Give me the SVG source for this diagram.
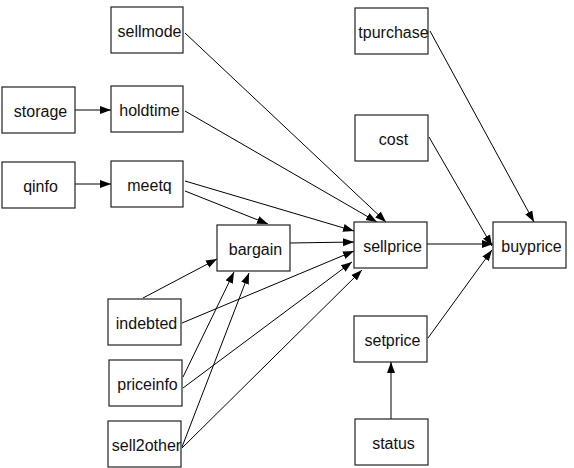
<svg xmlns="http://www.w3.org/2000/svg" width="574" height="468" viewBox="0 0 574 468">
<style>
.n rect{fill:#fff;stroke:#222;stroke-width:1.2}
.n text{font-family:"Liberation Sans",Arial,sans-serif;font-size:16px;fill:#111;text-anchor:middle}
.e line{stroke:#000;stroke-width:1;marker-end:url(#ah)}
</style>
<defs>
<marker id="ah" markerUnits="userSpaceOnUse" markerWidth="12" markerHeight="10" refX="11" refY="4" orient="auto" viewBox="0 0 12 8">
<path d="M0,0 L11,4 L0,8 z" fill="#000"/>
</marker>
</defs>
<rect width="574" height="468" fill="#fff"/>
<g class="e">
<line x1="75" y1="110" x2="111" y2="110"/>
<line x1="75" y1="184" x2="111" y2="184"/>
<line x1="185" y1="33" x2="386" y2="222"/>
<line x1="185" y1="111" x2="377" y2="222"/>
<line x1="185" y1="181" x2="354" y2="231"/>
<line x1="185" y1="191" x2="268" y2="224"/>
<line x1="290" y1="243" x2="354" y2="242"/>
<line x1="143" y1="298" x2="217" y2="259"/>
<line x1="182" y1="323" x2="354" y2="251"/>
<line x1="183" y1="377" x2="234" y2="272"/>
<line x1="183" y1="388" x2="352" y2="262"/>
<line x1="182" y1="447" x2="249" y2="273"/>
<line x1="182" y1="448" x2="362" y2="270"/>
<line x1="427" y1="244" x2="493" y2="244"/>
<line x1="430" y1="31" x2="534" y2="222"/>
<line x1="429" y1="137" x2="492" y2="246"/>
<line x1="428" y1="338" x2="492" y2="250"/>
<line x1="391" y1="419" x2="391" y2="362"/>
</g>
<g id="sellmode" class="n"><rect x="111" y="7" width="72" height="46"/><text x="149.5" y="36.5">sellmode</text></g>
<g id="storage" class="n"><rect x="2" y="87" width="73" height="46"/><text x="40.5" y="116.5">storage</text></g>
<g id="holdtime" class="n"><rect x="111" y="86" width="72" height="46"/><text x="149.5" y="115.5">holdtime</text></g>
<g id="qinfo" class="n"><rect x="2" y="162" width="73" height="46"/><text x="40.5" y="191.5">qinfo</text></g>
<g id="meetq" class="n"><rect x="111" y="161" width="72" height="46"/><text x="149.5" y="190.5">meetq</text></g>
<g id="bargain" class="n"><rect x="217" y="225" width="73" height="46"/><text x="255.5" y="254.5">bargain</text></g>
<g id="indebted" class="n"><rect x="108" y="299" width="73" height="46"/><text x="146.5" y="328.5">indebted</text></g>
<g id="priceinfo" class="n"><rect x="109" y="360" width="73" height="46"/><text x="147.5" y="389.5">priceinfo</text></g>
<g id="sell2other" class="n"><rect x="108" y="421" width="73" height="46"/><text x="146.5" y="450.5">sell2other</text></g>
<g id="tpurchase" class="n"><rect x="355" y="8" width="73" height="46"/><text x="393.5" y="37.5">tpurchase</text></g>
<g id="cost" class="n"><rect x="355" y="115" width="73" height="46"/><text x="393.5" y="144.5">cost</text></g>
<g id="sellprice" class="n"><rect x="354" y="222" width="73" height="46"/><text x="392.5" y="251.5">sellprice</text></g>
<g id="buyprice" class="n"><rect x="493" y="222" width="73" height="46"/><text x="531.5" y="251.5">buyprice</text></g>
<g id="setprice" class="n"><rect x="354" y="316" width="73" height="46"/><text x="392.5" y="345.5">setprice</text></g>
<g id="status" class="n"><rect x="355" y="419" width="73" height="46"/><text x="393.5" y="448.5">status</text></g>
</svg>
